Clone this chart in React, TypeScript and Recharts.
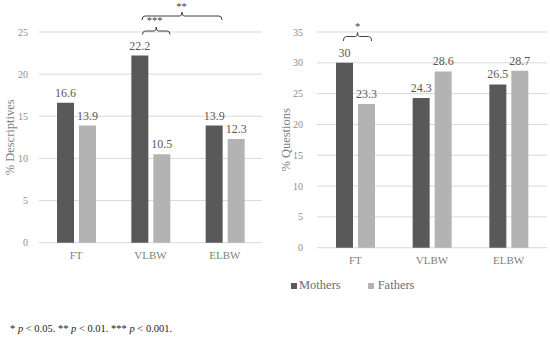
import { BarChart, Bar, XAxis, YAxis, CartesianGrid, LabelList } from "recharts";

const groups = ["FT", "VLBW", "ELBW"];

const descMothers = [16.6, 22.2, 13.9];
const descFathers = [13.9, 10.5, 12.3];
const descTicks = [0, 5, 10, 15, 20, 25];

const questMothers = [30, 24.3, 26.5];
const questFathers = [23.3, 28.6, 28.7];
const questTicks = [0, 5, 10, 15, 20, 25, 30, 35];

const MOTHER = "#595959";
const FATHER = "#b3b3b3";
const FONT = "'Liberation Serif', 'DejaVu Serif', serif";

const descData = groups.map((g, i) => ({ group: g, mothers: descMothers[i], fathers: descFathers[i] }));
const questData = groups.map((g, i) => ({ group: g, mothers: questMothers[i], fathers: questFathers[i] }));

// brace-like bracket: ends hang down, middle tick points up
function bracket(x1: number, x2: number, y: number, drop: number, rise: number) {
  const m = (x1 + x2) / 2;
  return `M${x1},${y + drop} Q${x1},${y} ${x1 + 3},${y} L${m - 2},${y} Q${m},${y} ${m},${y - rise} Q${m},${y} ${m + 2},${y} L${x2 - 3},${y} Q${x2},${y} ${x2},${y + drop}`;
}

function Panel(props: {
  data: typeof descData;
  ticks: number[];
  max: number;
  title: string;
  yWidth: number;
  tickMargin: number;
  titleOffset: number;
  margin: { top: number; right: number; left: number; bottom: number };
}) {
  const { data, ticks, max, title, yWidth, tickMargin, titleOffset, margin } = props;
  return (
    <BarChart width={275} height={300} data={data} margin={margin} barSize={17} barGap={5}>
      <CartesianGrid vertical={false} stroke="#d9d9d9" />
      <XAxis
        dataKey="group"
        axisLine={false}
        tickLine={false}
        height={30}
        tick={{ fontSize: 11, fill: "#7f7f7f", fontFamily: FONT }}
      />
      <YAxis
        domain={[0, max]}
        ticks={ticks}
        width={yWidth}
        axisLine={false}
        tickLine={false}
        tickMargin={tickMargin}
        tick={{ fontSize: 10, fill: "#8c8c8c", fontFamily: FONT }}
        label={{
          value: title,
          angle: -90,
          position: "insideLeft",
          offset: titleOffset,
          style: { textAnchor: "middle", fontSize: 12.5, fill: "#7f7f7f", fontFamily: FONT },
        }}
      />
      <Bar dataKey="mothers" fill={MOTHER} isAnimationActive={false}>
        <LabelList dataKey="mothers" position="top" offset={6} fill="#595959" fontSize={12} fontFamily={FONT} />
      </Bar>
      <Bar dataKey="fathers" fill={FATHER} isAnimationActive={false}>
        <LabelList dataKey="fathers" position="top" offset={6} fill="#595959" fontSize={12} fontFamily={FONT} />
      </Bar>
    </BarChart>
  );
}

export default function App() {
  return (
    <div style={{ position: "absolute", left: 0, top: 0, width: 550, height: 339, background: "#fff", fontFamily: FONT }}>
      <div style={{ position: "absolute", left: 0, top: 0 }}>
        <Panel
          data={descData}
          ticks={descTicks}
          max={25}
          title="% Descriptives"
          yWidth={39}
          tickMargin={5}
          titleOffset={10}
          margin={{ top: 32, right: 13, left: 0, bottom: 27.3 }}
        />
      </div>
      <div style={{ position: "absolute", left: 275, top: 0 }}>
        <Panel
          data={questData}
          ticks={questTicks}
          max={35}
          title="% Questions"
          yWidth={42}
          tickMargin={8}
          titleOffset={11}
          margin={{ top: 32, right: 3, left: 0, bottom: 22.3 }}
        />
      </div>
      <svg width={550} height={339} style={{ position: "absolute", left: 0, top: 0, pointerEvents: "none" }}>
        <g fill="none" stroke="#404040" strokeWidth={1}>
          <path d={bracket(142, 222, 16, 4, 4)} />
          <path d={bracket(142.5, 170, 31, 3.5, 4)} />
          <path d={bracket(343.5, 371.5, 36.5, 4.5, 4)} />
        </g>
        <g fill="#404040" fontSize={10.5} fontFamily={FONT} textAnchor="middle">
          <text x={181.5} y={10}>**</text>
          <text x={154.5} y={24}>***</text>
          <text x={357.5} y={30}>*</text>
        </g>
      </svg>
      <div
        style={{
          position: "absolute",
          left: 291,
          top: 278,
          display: "flex",
          alignItems: "center",
          fontSize: 12.5,
          color: "#6e6e6e",
          lineHeight: "15px",
        }}
      >
        <span style={{ width: 6, height: 6, background: MOTHER, display: "inline-block", marginRight: 2 }} />
        <span>Mothers</span>
        <span style={{ width: 6, height: 6, background: FATHER, display: "inline-block", marginLeft: 27, marginRight: 4 }} />
        <span>Fathers</span>
      </div>
      <div style={{ position: "absolute", left: 10, top: 323, fontSize: 10.5, color: "#222", whiteSpace: "nowrap", lineHeight: "12px" }}>
        * <i>p</i> &lt; 0.05. ** <i>p</i> &lt; 0.01. *** <i>p</i> &lt; 0.001.
      </div>
    </div>
  );
}
